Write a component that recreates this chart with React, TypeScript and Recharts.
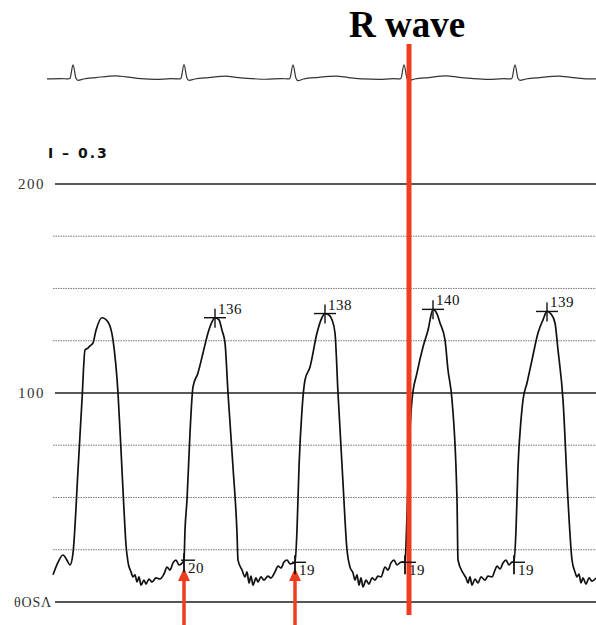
import { ComposedChart, Line, Scatter, XAxis, YAxis, ReferenceLine } from 'recharts';

// arterial pressure, [time ms, mmHg] per beat
const beat1: [number, number][] = [
  [56, 13], [96, 19], [136, 22.5], [168, 20], [192, 17.7], [216, 23.4],
  [256, 63], [288, 96.7], [312, 120.6], [336, 121.5], [352, 122.5], [376, 124],
  [400, 130], [448, 136], [496, 134], [536, 125.4], [576, 100], [600, 72.7],
  [624, 44], [640, 27.3], [656, 19.1], [680, 14.4], [696, 12], [712, 13],
  [728, 9.6], [744, 12], [760, 8.1], [784, 10.5], [800, 8.6], [824, 11],
  [848, 9.6], [880, 11.5], [912, 11], [944, 13.4], [968, 16.7], [992, 15.3],
  [1016, 18.7], [1040, 20.1], [1064, 17.7], [1104, 20],
];
const beat2: [number, number][] = [
  [1112, 34.4], [1128, 48.8], [1152, 80.9], [1176, 102.9], [1216, 109.6],
  [1256, 119.1], [1296, 128.7], [1328, 134], [1352, 136], [1384, 135],
  [1408, 130], [1432, 124], [1456, 100], [1496, 64.6], [1528, 33], [1536, 20],
  [1568, 15.3], [1592, 12], [1608, 14.4], [1624, 9.1], [1640, 12.4], [1656, 8.1],
  [1680, 11.5], [1696, 9.6], [1720, 12], [1744, 10.5], [1776, 12.4], [1800, 11.5],
  [1832, 14.4], [1856, 17.2], [1880, 16.3], [1904, 19.1], [1928, 20.1],
  [1952, 18.2], [1992, 19],
];
const beat3: [number, number][] = [
  [2008, 34.4], [2024, 64.6], [2048, 91.9], [2072, 106.2], [2112, 112.4],
  [2168, 128.7], [2200, 135], [2232, 138], [2264, 137.3], [2288, 135],
  [2312, 128.7], [2336, 100], [2376, 56.9], [2408, 24.9], [2432, 16.7],
  [2456, 13.9], [2472, 10.5], [2488, 13], [2504, 8.1], [2520, 11.5], [2536, 7.2],
  [2560, 10.5], [2584, 8.6], [2608, 11.5], [2632, 10.5], [2656, 12.4], [2680, 12],
  [2712, 16.7], [2736, 15.3], [2760, 18.7], [2784, 20.1], [2808, 17.7],
  [2840, 19.1], [2872, 19],
];
const beat4: [number, number][] = [
  [2880, 27.3], [2896, 56.9], [2912, 82.3], [2928, 96.7], [2968, 109.6],
  [3016, 122], [3056, 130], [3096, 140], [3128, 137.8], [3152, 133.5],
  [3192, 125.4], [3216, 111], [3248, 96.7], [3288, 48.8], [3296, 20.1],
  [3336, 13.9], [3360, 11.5], [3376, 9.1], [3392, 12], [3408, 8.1], [3432, 11],
  [3456, 9.1], [3480, 12], [3512, 10.5], [3536, 12.4], [3568, 12], [3592, 15.3],
  [3608, 17.2], [3632, 15.8], [3656, 18.7], [3680, 20.1], [3704, 17.7],
  [3728, 19.1], [3744, 19],
];
const beat5: [number, number][] = [
  [3760, 34.4], [3776, 64.6], [3800, 87.1], [3816, 96.7], [3848, 104.8],
  [3888, 115.8], [3936, 128.7], [3976, 135], [4008, 139], [4040, 137.8],
  [4072, 133.5], [4096, 120.6], [4136, 96.7], [4176, 48.8], [4208, 20.1],
  [4232, 14.4], [4248, 12], [4264, 13.4], [4280, 9.1], [4296, 11.5], [4320, 8.6],
  [4344, 11.5], [4368, 10], [4400, 11.5],
];

// ECG lead I, [time ms, mV]
const ecg1: [number, number][] = [
  [8, 0], [120, 0.03], [176, 0], [192, 0.05], [216, 1.0], [240, 0.05], [256, -0.1],
  [300, 0], [400, 0.1], [560, 0.22], [640, 0.15], [760, 0.02], [880, -0.03],
  [1000, 0.02], [1072, 0],
];
const ecg2: [number, number][] = [
  [1080, 0.05], [1104, 1.02], [1128, 0.05], [1144, -0.1], [1190, 0], [1300, 0.1],
  [1440, 0.2], [1520, 0.12], [1640, 0.03], [1760, -0.02], [1880, 0.03], [1944, 0],
];
const ecg3: [number, number][] = [
  [1952, 0.05], [1976, 1.0], [2000, 0.05], [2016, -0.12], [2060, 0], [2180, 0.12],
  [2320, 0.2], [2420, 0.1], [2540, 0], [2660, -0.03], [2780, 0.02], [2832, 0],
];
const ecg4: [number, number][] = [
  [2840, 0.05], [2864, 1.0], [2888, 0.05], [2904, -0.1], [2950, 0], [3060, 0.1],
  [3200, 0.22], [3300, 0.12], [3420, 0.02], [3540, -0.03], [3660, 0.02], [3720, 0],
];
const ecg5: [number, number][] = [
  [3728, 0.05], [3752, 1.0], [3776, 0.05], [3792, -0.1], [3840, 0], [3950, 0.1],
  [4100, 0.2], [4200, 0.12], [4300, 0.03], [4400, 0],
];

const peakTimes = [1352, 2232, 3096, 4008];
const peakValues = [136, 138, 140, 139];
const footTimes = [1104, 1992, 2872, 3744];
const footValues = [20, 19, 19, 19];
const arrowTimes = [1104, 1992];
const rWaveTime = 2904;
const solidLevels = [200, 100, 0];
const dottedLevels = [175, 150, 125, 75, 50, 25];
const yTicks = [0, 100, 200];

const pressure = [...beat1, ...beat2, ...beat3, ...beat4, ...beat5].map(([t, p]) => ({ t, p }));
const ecg = [...ecg1, ...ecg2, ...ecg3, ...ecg4, ...ecg5].map(([t, mv]) => ({ t, mv }));
const peaks = peakTimes.map((t, i) => ({ t, p: peakValues[i] }));
const feet = footTimes.map((t, i) => ({ t, p: footValues[i] }));

const RED = '#f03d1f';
const SERIF = '"Liberation Serif", "Times New Roman", serif';

const PressureTick = (props: any) => {
  const { y, payload } = props;
  if (payload.value === 0) {
    return (
      <text x={14} y={y} dy={5} fontFamily={SERIF} fontSize={14} letterSpacing={0.8} fill="#333">
        θOSΛ
      </text>
    );
  }
  return (
    <text x={45} y={y} dy={5} textAnchor="end" fontFamily={SERIF} fontSize={15} letterSpacing={1.5} fill="#333">
      {payload.value}
    </text>
  );
};

const PeakMark = (props: any) => {
  const { cx, cy, payload } = props;
  return (
    <g>
      <line x1={cx - 11} y1={cy} x2={cx + 11} y2={cy} stroke="#111" strokeWidth={1.4} />
      <line x1={cx} y1={cy - 9} x2={cx} y2={cy + 10} stroke="#111" strokeWidth={1.4} />
      <text x={cx + 3} y={cy - 4} fontFamily={SERIF} fontSize={15} letterSpacing={0.5} fill="#111">
        {payload.p}
      </text>
    </g>
  );
};

const FootMark = (props: any) => {
  const { cx, cy, payload } = props;
  return (
    <g>
      <line x1={cx - 3} y1={cy} x2={cx + 11} y2={cy} stroke="#111" strokeWidth={1.4} />
      <line x1={cx} y1={cy - 7} x2={cx} y2={cy + 12} stroke="#111" strokeWidth={1.8} />
      <text x={cx + 4} y={cy + 13} fontFamily={SERIF} fontSize={15} letterSpacing={0.5} fill="#111">
        {payload.p}
      </text>
    </g>
  );
};

const RWaveLine = (props: any) => {
  const { x1, y1, x2, y2 } = props;
  const top = Math.min(y1, y2);
  return (
    <g>
      <line x1={x1} y1={y1} x2={x2} y2={y2} stroke={RED} strokeWidth={5} />
      <text x={x1 - 2} y={top - 7} textAnchor="middle" fontFamily={SERIF} fontWeight="bold" fontSize={37} fill="#000">
        R wave
      </text>
    </g>
  );
};

const Arrow = (props: any) => {
  const { x1, y1, y2 } = props;
  const tip = Math.min(y1, y2);
  const end = Math.max(y1, y2);
  return (
    <g>
      <line x1={x1} y1={tip + 10} x2={x1} y2={end} stroke={RED} strokeWidth={3.5} />
      <polygon points={`${x1},${tip} ${x1 - 6},${tip + 13} ${x1 + 6},${tip + 13}`} fill={RED} />
    </g>
  );
};

export default function App() {
  return (
    <div style={{ width: 596, height: 625, background: '#fff' }}>
      <style>{'body { margin: 0; }'}</style>
      <ComposedChart width={596} height={625} margin={{ top: 0, right: 0, bottom: 0, left: 0 }}>
        <XAxis dataKey="t" type="number" domain={[0, 4400]} hide />
        <YAxis
          yAxisId="p"
          type="number"
          domain={[-11, 288]}
          ticks={yTicks}
          width={46}
          axisLine={false}
          tickLine={false}
          tick={<PressureTick />}
        />
        <YAxis yAxisId="ecg" orientation="right" type="number" domain={[-39, 5.64]} hide />

        {dottedLevels.map((v) => (
          <ReferenceLine
            key={`d${v}`}
            yAxisId="p"
            segment={[{ x: 56, y: v }, { x: 4400, y: v }]}
            stroke="#7a7a7a"
            strokeWidth={1}
            strokeDasharray="1.5 1"
          />
        ))}
        {solidLevels.map((v) => (
          <ReferenceLine
            key={`s${v}`}
            yAxisId="p"
            segment={[{ x: 72, y: v }, { x: 4400, y: v }]}
            stroke={v === 0 ? '#555' : '#222'}
            strokeWidth={v === 0 ? 2 : 1.4}
          />
        ))}

        <Line
          yAxisId="ecg"
          data={ecg}
          dataKey="mv"
          type="monotone"
          stroke="#333"
          strokeWidth={1.2}
          dot={false}
          isAnimationActive={false}
        />
        <Line
          yAxisId="p"
          data={pressure}
          dataKey="p"
          type="monotone"
          stroke="#111"
          strokeWidth={1.7}
          dot={false}
          isAnimationActive={false}
        />
        <Scatter yAxisId="p" data={peaks} dataKey="p" shape={<PeakMark />} isAnimationActive={false} />
        <Scatter yAxisId="p" data={feet} dataKey="p" shape={<FootMark />} isAnimationActive={false} />

        {arrowTimes.map((t) => (
          <ReferenceLine
            key={`a${t}`}
            yAxisId="p"
            segment={[{ x: t, y: 16.3 }, { x: t, y: -11 }]}
            shape={<Arrow />}
          />
        ))}
        <ReferenceLine
          yAxisId="p"
          segment={[{ x: rWaveTime, y: 267 }, { x: rWaveTime, y: -6.2 }]}
          shape={<RWaveLine />}
        />

        <text x={48} y={158} fontFamily='"DejaVu Sans", sans-serif' fontWeight="bold" fontSize={14} letterSpacing={2} fill="#111">
          I – 0.3
        </text>
      </ComposedChart>
    </div>
  );
}
